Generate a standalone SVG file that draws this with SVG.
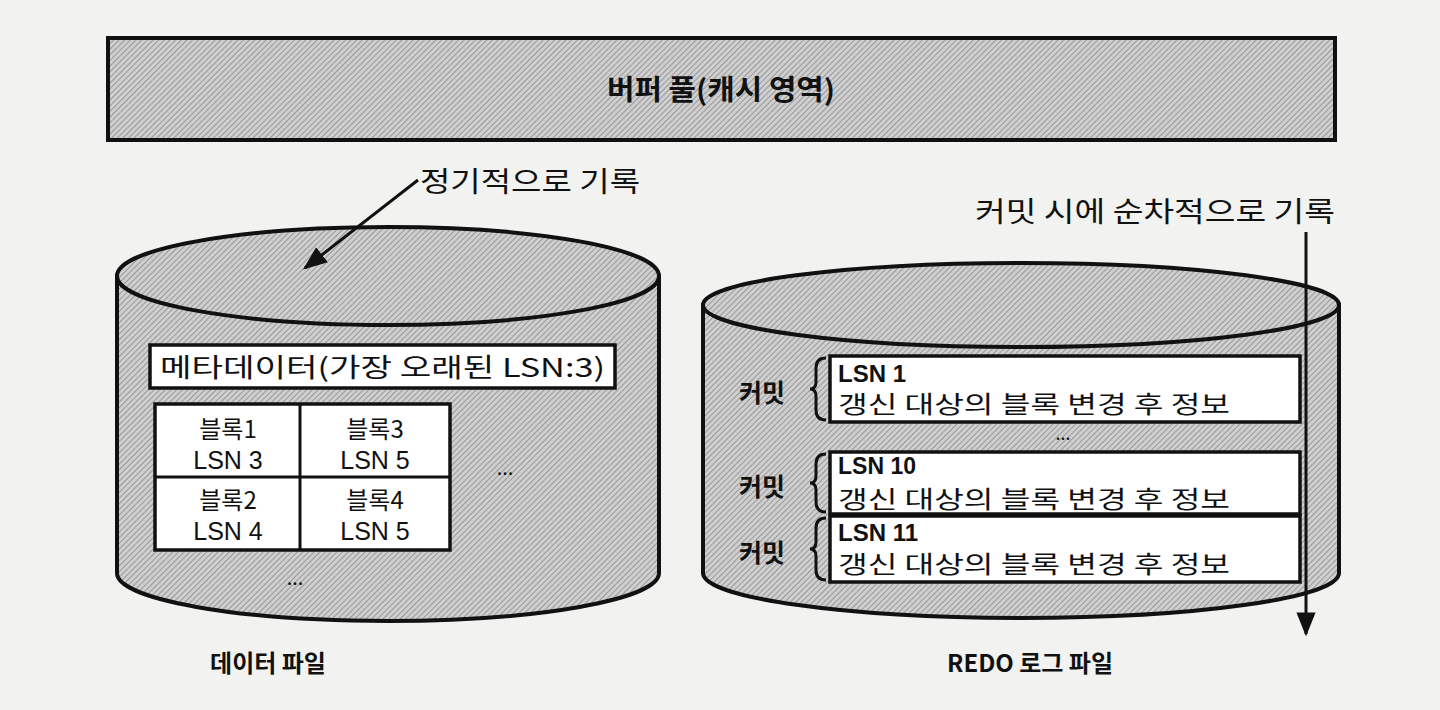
<svg xmlns="http://www.w3.org/2000/svg" width="1440" height="710" viewBox="0 0 1440 710">
  <defs>
    <pattern id="hatch" width="4" height="4" patternUnits="userSpaceOnUse" patternTransform="rotate(45)">
      <rect width="4" height="4" fill="#cfcfcf"/>
      <line x1="0" y1="0" x2="0" y2="4" stroke="#8a8a8a" stroke-width="1.6"/>
    </pattern>
    <marker id="arrowL" viewBox="0 0 10 10" refX="9" refY="5" markerWidth="24" markerHeight="24" orient="auto" markerUnits="userSpaceOnUse">
      <path d="M0,1 L10,5 L0,9 z" fill="#111"/>
    </marker>
  </defs>
  <style>
    .kr { font-family: "Noto Sans CJK KR", "Noto Sans", sans-serif; fill: #111; }
    .lat { font-family: "Liberation Sans", Arial, sans-serif; fill: #111; }
    .b { font-weight: bold; }
    .shape { fill: url(#hatch); stroke: #111; stroke-width: 4; }
    .box { fill: #ffffff; stroke: #111; stroke-width: 3.5; }
    .line { stroke: #111; stroke-width: 3; fill: none; }
    .conn { stroke: #111; stroke-width: 3; fill: none; }
  </style>
  <rect width="1440" height="710" fill="#f2f2f0"/>

  <g id="buffer-pool">
    <rect x="108" y="38" width="1227" height="102" class="shape"/>
    <text x="721" y="100" class="kr b" font-size="28" text-anchor="middle" textLength="228" lengthAdjust="spacingAndGlyphs">버퍼 풀(캐시 영역)</text>
  </g>

  <g id="data-file">
    <path d="M117,276 L117,573 A271,48 0 0 0 659,573 L659,276 Z" class="shape"/>
    <ellipse cx="388" cy="276" rx="271" ry="49" class="shape"/>
    <rect x="150" y="345" width="465" height="43" class="box"/>
    <text x="160" y="377" class="kr" font-size="26" textLength="445" lengthAdjust="spacingAndGlyphs">메타데이터(가장 오래된 LSN:3)</text>
    <rect x="155" y="404" width="295" height="146" class="box"/>
    <line x1="300" y1="404" x2="300" y2="550" class="line"/>
    <line x1="155" y1="477" x2="450" y2="477" class="line"/>
    <text x="228" y="438" class="kr" font-size="24" text-anchor="middle">블록1</text>
    <text x="228" y="469" class="lat" font-size="25" text-anchor="middle">LSN 3</text>
    <text x="375" y="438" class="kr" font-size="24" text-anchor="middle">블록3</text>
    <text x="375" y="469" class="lat" font-size="25" text-anchor="middle">LSN 5</text>
    <text x="228" y="509" class="kr" font-size="24" text-anchor="middle">블록2</text>
    <text x="228" y="540" class="lat" font-size="25" text-anchor="middle">LSN 4</text>
    <text x="375" y="509" class="kr" font-size="24" text-anchor="middle">블록4</text>
    <text x="375" y="540" class="lat" font-size="25" text-anchor="middle">LSN 5</text>
    <text x="505" y="475" class="kr" font-size="20" text-anchor="middle">...</text>
    <text x="295" y="585" class="kr" font-size="20" text-anchor="middle">...</text>
    <text x="268" y="672" class="kr b" font-size="24" text-anchor="middle">데이터 파일</text>
  </g>

  <g id="redo-log-file">
    <path d="M703,305 L703,573 A318,45 0 0 0 1339,573 L1339,305 Z" class="shape"/>
    <ellipse cx="1021" cy="305" rx="318" ry="42" class="shape"/>
    <rect x="830" y="356" width="470" height="66" class="box"/>
    <rect x="830" y="452" width="470" height="62" class="box"/>
    <rect x="830" y="516" width="470" height="66" class="box"/>
    <path d="M826,358 Q816,358 816,368 L816,382 Q816,389 810,389 Q816,389 816,396 L816,410 Q816,420 826,420" class="line"/>
    <path d="M826,454 Q816,454 816,464 L816,476 Q816,483 810,483 Q816,483 816,490 L816,502 Q816,512 826,512" class="line"/>
    <path d="M826,518 Q816,518 816,528 L816,542 Q816,549 810,549 Q816,549 816,556 L816,570 Q816,580 826,580" class="line"/>
    <text x="762" y="402" class="kr b" font-size="25" text-anchor="middle">커밋</text>
    <text x="762" y="496" class="kr b" font-size="25" text-anchor="middle">커밋</text>
    <text x="762" y="562" class="kr b" font-size="25" text-anchor="middle">커밋</text>
    <text x="838" y="382" class="lat b" font-size="24">LSN 1</text>
    <text x="838" y="413" class="kr" font-size="24" textLength="392" lengthAdjust="spacingAndGlyphs">갱신 대상의 블록 변경 후 정보</text>
    <text x="1063" y="440" class="kr" font-size="18" text-anchor="middle">...</text>
    <text x="838" y="474" class="lat b" font-size="23">LSN 10</text>
    <text x="838" y="508" class="kr" font-size="24" textLength="392" lengthAdjust="spacingAndGlyphs">갱신 대상의 블록 변경 후 정보</text>
    <text x="838" y="541" class="lat b" font-size="24">LSN 11</text>
    <text x="838" y="573" class="kr" font-size="24" textLength="392" lengthAdjust="spacingAndGlyphs">갱신 대상의 블록 변경 후 정보</text>
    <text x="1030" y="672" class="kr b" font-size="24" text-anchor="middle">REDO 로그 파일</text>
  </g>

  <g id="connectors">
    <line x1="418" y1="180" x2="305" y2="268" class="conn" marker-end="url(#arrowL)"/>
    <text x="420" y="192" class="kr" font-size="28" textLength="220" lengthAdjust="spacingAndGlyphs">정기적으로 기록</text>
    <line x1="1306" y1="232" x2="1306" y2="634" class="conn" marker-end="url(#arrowL)"/>
    <text x="975" y="222" class="kr" font-size="28" textLength="360" lengthAdjust="spacingAndGlyphs">커밋 시에 순차적으로 기록</text>
  </g>
</svg>
